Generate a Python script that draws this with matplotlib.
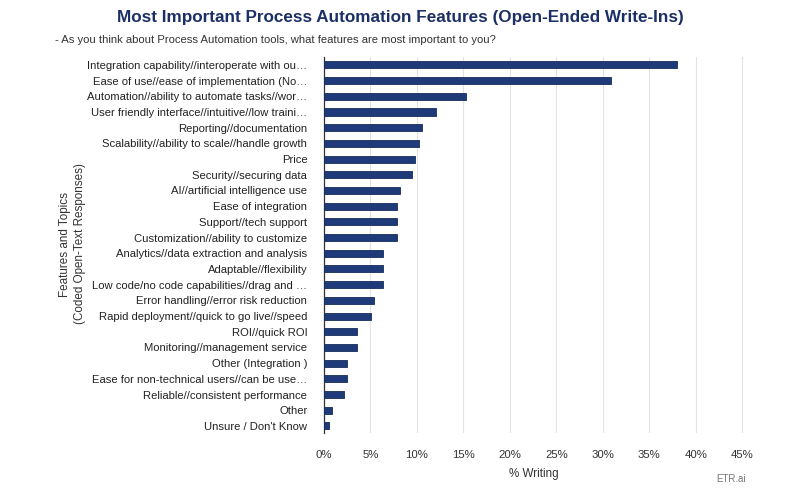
import matplotlib.pyplot as plt
import numpy as np

plt.rcParams['font.family'] = ['Liberation Sans', 'DejaVu Sans']

features = [
    "Integration capability//interoperate with ou\u2026",
    "Ease of use//ease of implementation (No\u2026",
    "Automation//ability to automate tasks//wor\u2026",
    "User friendly interface//intuitive//low traini\u2026",
    "Reporting//documentation",
    "Scalability//ability to scale//handle growth",
    "Price",
    "Security//securing data",
    "AI//artificial intelligence use",
    "Ease of integration",
    "Support//tech support",
    "Customization//ability to customize",
    "Analytics//data extraction and analysis",
    "Adaptable//flexibility",
    "Low code/no code capabilities//drag and \u2026",
    "Error handling//error risk reduction",
    "Rapid deployment//quick to go live//speed",
    "ROI//quick ROI",
    "Monitoring//management service",
    "Other (Integration )",
    "Ease for non-technical users//can be use\u2026",
    "Reliable//consistent performance",
    "Other",
    "Unsure / Don't Know",
]
pct_writing = [38.0, 30.9, 15.3, 12.1, 10.5, 10.2, 9.8, 9.5, 8.2, 7.9, 7.9, 7.9,
               6.3, 6.3, 6.3, 5.4, 5.1, 3.5, 3.5, 2.5, 2.5, 2.1, 0.9, 0.5]
x_ticks = [0, 5, 10, 15, 20, 25, 30, 35, 40, 45]

navy = '#1f3a78'

fig = plt.figure(figsize=(8, 4.96), dpi=100)
fig.patch.set_facecolor('white')

ax = fig.add_axes([0.405, 0.127, 0.525, 0.758])

y = np.arange(len(features))
ax.barh(y, pct_writing, height=0.45, color=navy, edgecolor='#172c5c', linewidth=0.6, zorder=3)

ax.set_ylim(len(features) - 0.55, -0.5)
ax.set_xlim(0, 45.2)
ax.set_yticks(y)
ax.set_yticklabels(features, fontsize=8.1, color='#222222')
ax.set_xticks(x_ticks)
ax.set_xticklabels(['%d%%' % t for t in x_ticks], fontsize=8.2, color='#333333')
ax.tick_params(axis='y', length=0, pad=12)
ax.tick_params(axis='x', length=0, pad=12)

ax.grid(axis='x', color='#e3e3e3', linewidth=0.8, zorder=0)
for s in ['top', 'right', 'bottom']:
    ax.spines[s].set_visible(False)
ax.spines['left'].set_color('#333333')
ax.spines['left'].set_linewidth(0.9)

ax.set_xlabel('% Writing', fontsize=8.4, color='#333333', labelpad=6)
fig.text(0.091, 0.508, 'Features and Topics\n(Coded Open-Text Responses)', rotation=90,
         ha='center', va='center', fontsize=8.4, color='#333333', linespacing=1.3)

fig.text(0.5, 0.965, 'Most Important Process Automation Features (Open-Ended Write-Ins)',
         ha='center', va='center', fontsize=12.3, fontweight='bold', color='#1c2f66')
fig.text(0.069, 0.92, '- As you think about Process Automation tools, what features are most important to you?',
         ha='left', va='center', fontsize=8.15, color='#333333')
fig.text(0.932, 0.034, 'ETR.ai', ha='right', va='center', fontsize=7, color='#777777')

fig.savefig('out.png', dpi=100)
